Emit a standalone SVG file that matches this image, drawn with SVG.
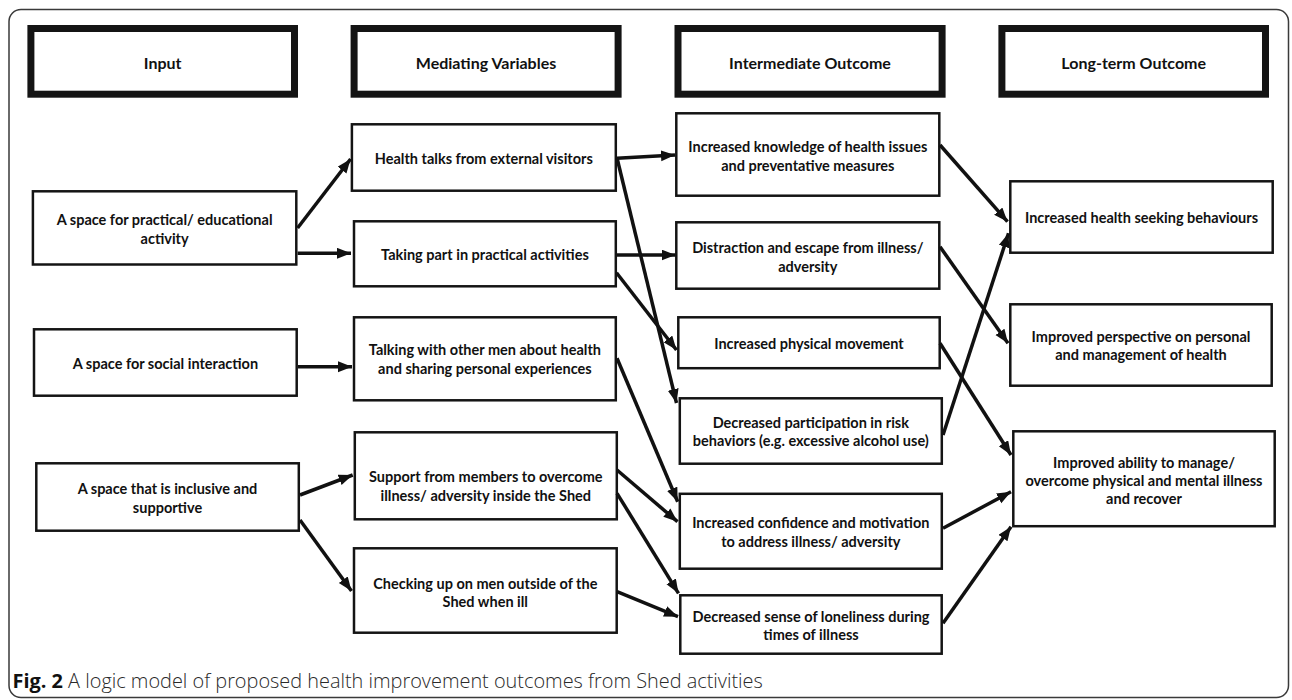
<svg xmlns="http://www.w3.org/2000/svg" width="1292" height="700" viewBox="0 0 1292 700">
<style>
.frame{fill:#fff;stroke:#3a3a3a;stroke-width:1.5}
.hdr{fill:#fff;stroke:#141414;stroke-width:7}
.box{fill:#fff;stroke:#141414;stroke-width:2.5}
.ht{font-family:Lato,"Liberation Sans",sans-serif;font-weight:700;font-size:16px;fill:#111;text-anchor:middle}
.t{font-family:Lato,"Liberation Sans",sans-serif;font-weight:700;font-size:14.5px;fill:#111;text-anchor:middle}
.cap{font-family:"Open Sans","Liberation Sans",sans-serif;font-weight:300;font-size:19.9px;fill:#2a2a2a}
.cap .b{font-weight:700;fill:#111}
#connectors line{stroke:#111;stroke-width:3.5;marker-end:url(#ah)}
</style>
<defs>
<marker id="ah" markerUnits="userSpaceOnUse" markerWidth="15" markerHeight="12" refX="14" refY="5.5" orient="auto">
<path d="M0,0 L14,5.5 L0,11 Z" fill="#111"/>
</marker>
</defs>
<rect class="frame" x="9" y="9.5" width="1279.5" height="688" rx="12"/>

<g id="h-input"><rect class="hdr" x="30.9" y="28.5" width="263.6" height="65.7"/><text class="ht" x="162.7" y="68.5">Input</text></g>
<g id="h-mediating"><rect class="hdr" x="354.1" y="28.5" width="264" height="65.7"/><text class="ht" x="486" y="68.5">Mediating Variables</text></g>
<g id="h-intermediate"><rect class="hdr" x="678" y="28.5" width="264.1" height="65.7"/><text class="ht" x="810" y="68.5">Intermediate Outcome</text></g>
<g id="h-longterm"><rect class="hdr" x="1001.9" y="28.5" width="263.6" height="65.7"/><text class="ht" x="1133.7" y="68.5">Long-term Outcome</text></g>

<g id="i1"><rect class="box" x="32.9" y="191.3" width="263.4" height="73.2"/><text class="t" x="164.6" y="224.5">A space for practical/ educational</text><text class="t" x="164.6" y="244">activity</text></g>
<g id="i2"><rect class="box" x="34" y="329.3" width="262.7" height="66.4"/><text class="t" x="165.4" y="368.5">A space for social interaction</text></g>
<g id="i3"><rect class="box" x="36.3" y="463.3" width="262.5" height="67.4"/><text class="t" x="167.5" y="493.5">A space that is inclusive and</text><text class="t" x="167.5" y="513">supportive</text></g>

<g id="m1"><rect class="box" x="351.9" y="124.3" width="263.9" height="66.4"/><text class="t" x="483.8" y="164">Health talks from external visitors</text></g>
<g id="m2"><rect class="box" x="354" y="221.3" width="261.8" height="65"/><text class="t" x="484.9" y="260">Taking part in practical activities</text></g>
<g id="m3"><rect class="box" x="354" y="317.3" width="261.8" height="83"/><text class="t" x="484.9" y="355">Talking with other men about health</text><text class="t" x="484.9" y="374">and sharing personal experiences</text></g>
<g id="m4"><rect class="box" x="354.8" y="432.3" width="262" height="87"/><text class="t" x="485.8" y="482">Support from members to overcome</text><text class="t" x="485.8" y="501">illness/ adversity inside the Shed</text></g>
<g id="m5"><rect class="box" x="354" y="548.3" width="262.7" height="84.4"/><text class="t" x="485.3" y="588.5">Checking up on men outside of the</text><text class="t" x="485.3" y="607">Shed when ill</text></g>

<g id="o1"><rect class="box" x="676.3" y="113.3" width="263" height="82.4"/><text class="t" x="807.8" y="152">Increased knowledge of health issues</text><text class="t" x="807.8" y="171">and preventative measures</text></g>
<g id="o2"><rect class="box" x="676.3" y="222.3" width="263" height="66.4"/><text class="t" x="807.8" y="253">Distraction and escape from illness/</text><text class="t" x="807.8" y="272">adversity</text></g>
<g id="o3"><rect class="box" x="678.3" y="317.3" width="261.4" height="50.9"/><text class="t" x="809" y="348.5">Increased physical movement</text></g>
<g id="o4"><rect class="box" x="679.8" y="398.3" width="262" height="65.4"/><text class="t" x="810.8" y="428">Decreased participation in risk</text><text class="t" x="810.8" y="446">behaviors (e.g. excessive alcohol use)</text></g>
<g id="o5"><rect class="box" x="679.8" y="493.8" width="262" height="74.9"/><text class="t" x="810.8" y="527.5">Increased confidence and motivation</text><text class="t" x="810.8" y="547">to address illness/ adversity</text></g>
<g id="o6"><rect class="box" x="680.3" y="595.3" width="261.4" height="58.4"/><text class="t" x="811" y="622">Decreased sense of loneliness during</text><text class="t" x="811" y="640">times of illness</text></g>

<g id="l1"><rect class="box" x="1010.3" y="181.3" width="262.4" height="71.4"/><text class="t" x="1141.5" y="223">Increased health seeking behaviours</text></g>
<g id="l2"><rect class="box" x="1010.3" y="304.3" width="261.4" height="81.4"/><text class="t" x="1141" y="342">Improved perspective on personal</text><text class="t" x="1141" y="360">and management of health</text></g>
<g id="l3"><rect class="box" x="1013.3" y="431.3" width="261.4" height="94.9"/><text class="t" x="1144" y="467.5">Improved ability to manage/</text><text class="t" x="1144" y="486">overcome physical and mental illness</text><text class="t" x="1144" y="504">and recover</text></g>

<g id="connectors">
<line x1="297.6" y1="228" x2="350.6" y2="159"/>
<line x1="297.6" y1="253.3" x2="351" y2="253.3"/>
<line x1="298" y1="366.7" x2="352" y2="366.7"/>
<line x1="300" y1="495" x2="352.7" y2="475"/>
<line x1="300" y1="520" x2="351.5" y2="591"/>
<line x1="617" y1="158.3" x2="675" y2="155"/>
<line x1="617" y1="158" x2="676.5" y2="403"/>
<line x1="617" y1="255" x2="675.5" y2="255"/>
<line x1="616.5" y1="272.7" x2="676.5" y2="350"/>
<line x1="617" y1="358.3" x2="677.7" y2="501.7"/>
<line x1="617" y1="470" x2="677.5" y2="521.7"/>
<line x1="617" y1="493.3" x2="678.5" y2="593.3"/>
<line x1="617" y1="591.7" x2="678" y2="616.7"/>
<line x1="940" y1="145" x2="1007.5" y2="221.7"/>
<line x1="940" y1="246.7" x2="1008" y2="343.3"/>
<line x1="940" y1="343.3" x2="1011" y2="455"/>
<line x1="943" y1="435" x2="1008.5" y2="233.3"/>
<line x1="943" y1="528.3" x2="1011" y2="491.7"/>
<line x1="943" y1="623.3" x2="1011" y2="526.7"/>
</g>

<text class="cap" x="12.5" y="688"><tspan class="b">Fig. 2</tspan> A logic model of proposed health improvement outcomes from Shed activities</text>
</svg>
